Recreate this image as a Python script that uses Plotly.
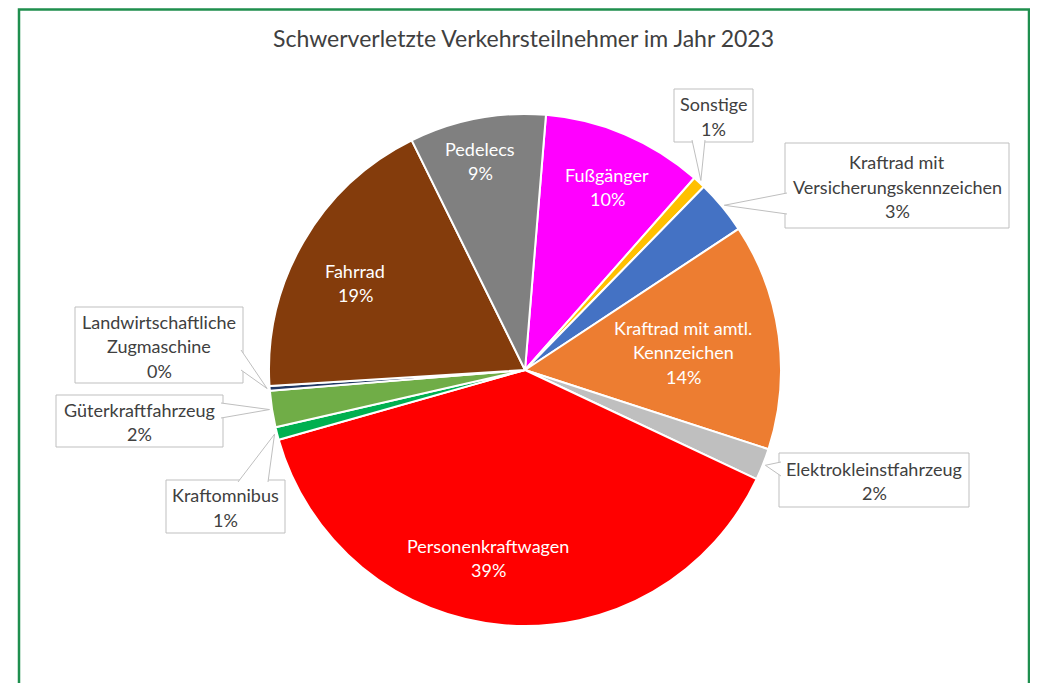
import math
import plotly.graph_objects as go

# ---------------------------------------------------------------------------
# Data (shares in percent), clockwise from the top
# ---------------------------------------------------------------------------
categories = [
    "Fußgänger",
    "Sonstige",
    "Kraftrad mit Versicherungskennzeichen",
    "Kraftrad mit amtl. Kennzeichen",
    "Elektrokleinstfahrzeug",
    "Personenkraftwagen",
    "Kraftomnibus",
    "Güterkraftfahrzeug",
    "Landwirtschaftliche Zugmaschine",
    "Fahrrad",
    "Pedelecs",
]
label_lines = [
    ["Fußgänger"],
    ["Sonstige"],
    ["Kraftrad mit", "Versicherungskennzeichen"],
    ["Kraftrad mit amtl.", "Kennzeichen"],
    ["Elektrokleinstfahrzeug"],
    ["Personenkraftwagen"],
    ["Kraftomnibus"],
    ["Güterkraftfahrzeug"],
    ["Landwirtschaftliche", "Zugmaschine"],
    ["Fahrrad"],
    ["Pedelecs"],
]
shares = [10.2, 0.8, 3.4, 14.3, 2.0, 38.6, 0.8, 2.3, 0.3, 18.7, 8.6]

colors = [
    "#FF00FF", "#FFC000", "#4472C4", "#ED7D31", "#BFBFBF", "#FF0000",
    "#00B050", "#70AD47", "#203864", "#843C0C", "#808080",
]

TITLE = "Schwerverletzte Verkehrsteilnehmer im Jahr 2023"

# ---------------------------------------------------------------------------
# Layout tokens (pixels, in page coordinates)
# ---------------------------------------------------------------------------
W, H = 1038, 683
OFF = 8                        # page body margin around the plot div
CX, CY, R = 525, 370, 256      # pie centre / radius
START = 4.7                    # angle of first slice
FONT = "Lato, Calibri, sans-serif"
TEXT_COLOR = "#404040"
BOX_COLOR = "#BFBFBF"
FRAME_COLOR = "#1F8F4E"
LABEL_SIZE = 18
LINE_H = 24.5


def px(x):
    return (x - OFF) / W


def py(y):
    return 1 - (y - OFF) / H


total = sum(shares)
pct = [f"{round(v / total * 100):.0f}%" for v in shares]

# mid angle of each slice, clockwise from 12 o'clock
mids = []
acc = START
for v in shares:
    a = v / total * 360
    mids.append(acc + a / 2)
    acc += a


def rim(i, f=1.0):
    t = math.radians(mids[i])
    return CX + f * R * math.sin(t), CY - f * R * math.cos(t)


# labels drawn inside the slices: index -> text centre
inside_pos = {0: (607, 187), 3: (683, 352), 5: (488, 558), 9: (355, 283), 10: (480, 161)}

# callout labels: index -> box and the two points where the wedge leaves it
callouts = {
    1: dict(box=(674, 89, 753, 142), base=((692, 140), (705, 140))),
    2: dict(box=(785, 143, 1009, 228), base=((787, 193), (787, 214))),
    4: dict(box=(779, 453, 969, 507), base=((781, 462), (781, 476))),
    6: dict(box=(166, 480, 285, 533), base=((238, 482), (268, 482))),
    7: dict(box=(56, 395, 223, 447), base=((221, 403), (221, 418))),
    8: dict(box=(75, 307, 243, 383), base=((241, 350), (241, 370))),
}

fig = go.Figure(
    go.Pie(
        labels=categories,
        values=shares,
        sort=False,
        direction="clockwise",
        rotation=START,
        textinfo="none",
        marker=dict(colors=colors, line=dict(color="white", width=2)),
        domain=dict(x=[px(CX - R), px(CX + R)], y=[py(CY + R), py(CY - R)]),
        showlegend=False,
        hovertemplate="<b>%{label}</b><br>%{percent}<extra></extra>",
    )
)

# green frame around the chart (top edge kept just inside the plot div)
shapes = [
    dict(type="rect", xref="paper", yref="paper",
         x0=px(19), x1=px(1029), y0=py(720), y1=py(9.5),
         line=dict(color=FRAME_COLOR, width=2.5), fillcolor="rgba(0,0,0,0)"),
]
annotations = []


def add_lines(lines, cx, cy, color):
    n = len(lines)
    for k, t in enumerate(lines):
        y = cy + (k - (n - 1) / 2) * LINE_H
        annotations.append(dict(
            x=px(cx), y=py(y), xref="paper", yref="paper", text=t,
            showarrow=False, xanchor="center", yanchor="middle",
            font=dict(family=FONT, size=LABEL_SIZE, color=color),
        ))


for i, (cx, cy) in inside_pos.items():
    add_lines(label_lines[i] + [pct[i]], cx, cy, "white")

for i, c in callouts.items():
    x0, y0, x1, y1 = c["box"]
    shapes.append(dict(type="rect", xref="paper", yref="paper",
                       x0=px(x0), x1=px(x1), y0=py(y1), y1=py(y0),
                       line=dict(color=BOX_COLOR, width=1), fillcolor="white"))
    tx, ty = rim(i, 1.01)
    (ax, ay), (bx, by) = c["base"]
    path = f"M {px(ax)} {py(ay)} L {px(tx)} {py(ty)} L {px(bx)} {py(by)}"
    shapes.append(dict(type="path", xref="paper", yref="paper", path=path,
                       line=dict(color=BOX_COLOR, width=1), fillcolor="white"))
    add_lines(label_lines[i] + [pct[i]], (x0 + x1) / 2, (y0 + y1) / 2 + 1, TEXT_COLOR)

annotations.append(dict(
    x=px(523), y=py(38), xref="paper", yref="paper", text=TITLE,
    showarrow=False, xanchor="center", yanchor="middle",
    font=dict(family=FONT, size=23, color=TEXT_COLOR),
))

fig.update_layout(
    width=W,
    height=H,
    margin=dict(l=0, r=0, t=0, b=0),
    paper_bgcolor="white",
    plot_bgcolor="white",
    font=dict(family=FONT, color=TEXT_COLOR),
    shapes=shapes,
    annotations=annotations,
)

fig.write_html("out.html")
